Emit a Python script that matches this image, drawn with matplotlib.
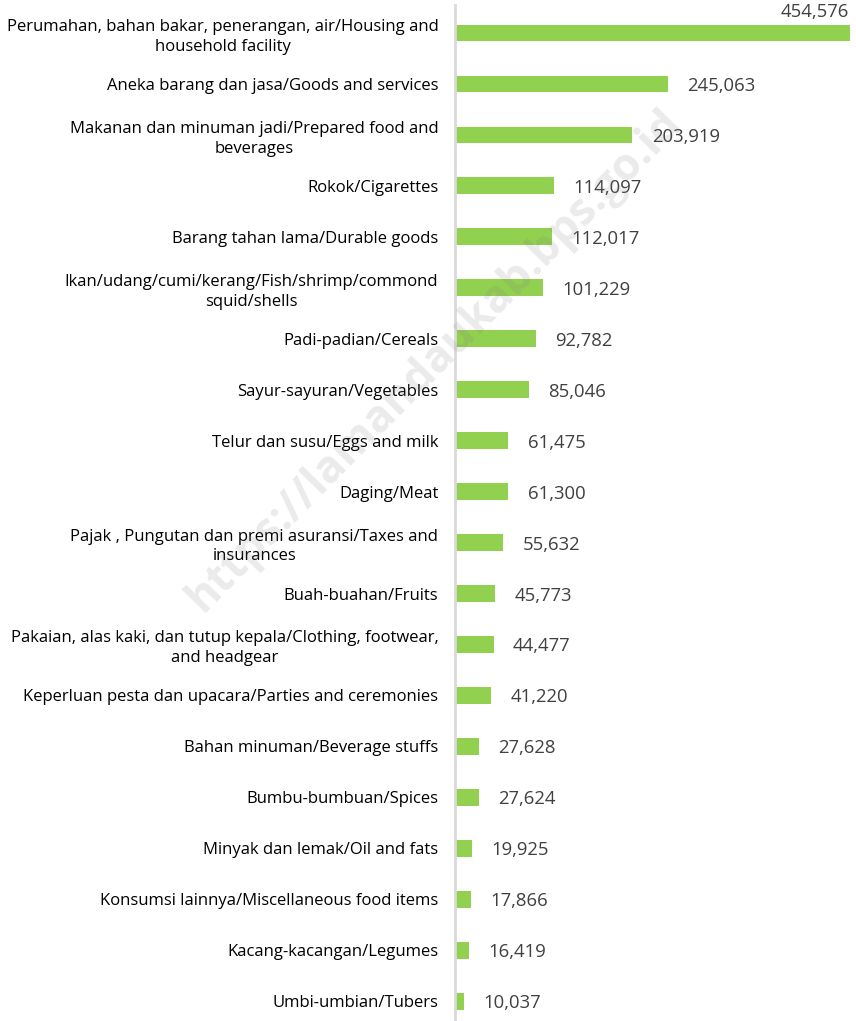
import matplotlib.pyplot as plt

kategori = [
    "Perumahan, bahan bakar, penerangan, air/Housing and\nhousehold facility",
    "Aneka barang dan jasa/Goods and services",
    "Makanan dan minuman jadi/Prepared food and\nbeverages",
    "Rokok/Cigarettes",
    "Barang tahan lama/Durable goods",
    "Ikan/udang/cumi/kerang/Fish/shrimp/commond\nsquid/shells",
    "Padi-padian/Cereals",
    "Sayur-sayuran/Vegetables",
    "Telur dan susu/Eggs and milk",
    "Daging/Meat",
    "Pajak , Pungutan dan premi asuransi/Taxes and\ninsurances",
    "Buah-buahan/Fruits",
    "Pakaian, alas kaki, dan tutup kepala/Clothing, footwear,\nand headgear",
    "Keperluan pesta dan upacara/Parties and ceremonies",
    "Bahan minuman/Beverage stuffs",
    "Bumbu-bumbuan/Spices",
    "Minyak dan lemak/Oil and fats",
    "Konsumsi lainnya/Miscellaneous food items",
    "Kacang-kacangan/Legumes",
    "Umbi-umbian/Tubers",
]
nilai = [454576, 245063, 203919, 114097, 112017, 101229, 92782, 85046,
         61475, 61300, 55632, 45773, 44477, 41220, 27628, 27624, 19925,
         17866, 16419, 10037]

plt.rcParams['font.family'] = ['Open Sans', 'DejaVu Sans']

W, H = 856, 1021
fig = plt.figure(figsize=(W / 100, H / 100), dpi=100)
# sumbu dari x=455 s/d 850 px, y=5 s/d 1021 px
ax = fig.add_axes([455 / W, 0, (850 - 455) / W, (H - 5) / H])

pos = list(range(len(nilai)))
ax.barh(pos, nilai, height=0.33, color="#92D050")
ax.set_xlim(0, 454576)
ax.set_ylim(19 + 0.39, -0.55)

for s in ["top", "right", "bottom"]:
    ax.spines[s].set_visible(False)
ax.spines["left"].set_color("#d9d9d9")
ax.spines["left"].set_linewidth(2)
ax.set_xticks([])
ax.set_yticks(pos)
ax.set_yticklabels(kategori, fontsize=12, color="black", ha="right",
                   multialignment="center", linespacing=1.32)
ax.tick_params(axis="y", length=0, pad=12)

for i, v in enumerate(nilai):
    teks = f"{v:,}"
    if i == 0:
        ax.annotate(teks, (v, i), xytext=(-1, 9), textcoords="offset points",
                    ha="right", va="bottom", fontsize=13.3, color="#404040")
    else:
        ax.annotate(teks, (v, i), xytext=(14, 0), textcoords="offset points",
                    ha="left", va="center_baseline", fontsize=13.3,
                    color="#404040")

fig.text(0.508, 0.647, "https://lamandaukab.bps.go.id", rotation=45.5,
         ha="center", va="center", fontsize=32, fontweight="bold",
         color="gray", alpha=0.16)

fig.savefig("out.png", dpi=100)
